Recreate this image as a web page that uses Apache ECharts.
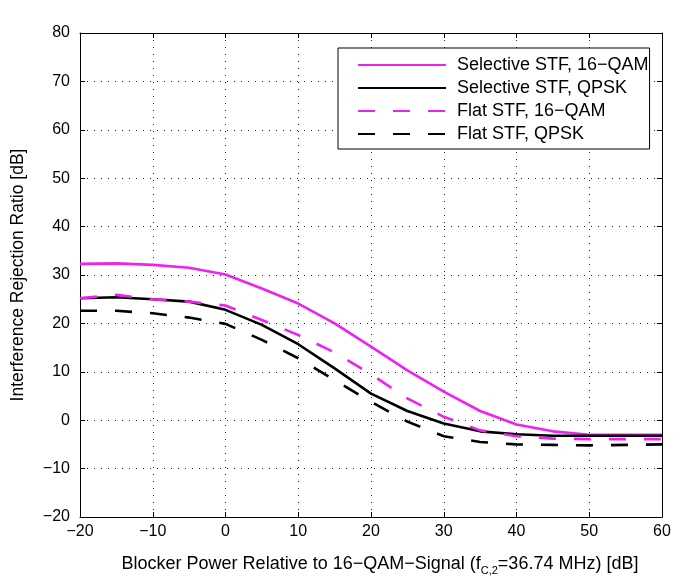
<!DOCTYPE html>
<html>
<head>
<meta charset="utf-8">
<script src="https://cdn.jsdelivr.net/npm/echarts@6/dist/echarts.min.js"></script>
<style>html,body{margin:0;padding:0;background:#fff;}#c{width:685px;height:587px;}</style>
</head>
<body>
<div id="c"></div>
<script>
const blockerPower = [-20,-15,-10,-5,0,5,10,15,20,25,30,35,40,45,50,55,60];
const selective16QAM = [32.3,32.4,32.1,31.5,30.1,27.2,24.1,20.0,15.2,10.3,5.9,1.9,-0.9,-2.3,-3.0,-3.0,-3.0];
const selectiveQPSK = [25.2,25.4,25.0,24.5,22.8,19.7,15.7,10.7,5.5,1.9,-0.7,-2.3,-2.9,-3.2,-3.2,-3.2,-3.2];
const flat16QAM = [25.2,25.9,25.0,24.5,23.7,20.7,17.6,14.0,9.5,4.5,0.7,-2.1,-3.3,-3.8,-3.9,-3.9,-3.9];
const flatQPSK = [22.6,22.6,22.1,21.2,19.9,16.6,12.8,8.3,3.8,-0.3,-3.3,-4.5,-5.0,-5.1,-5.2,-5.1,-5.0];
const seriesNames = ['Selective STF, 16\u2212QAM','Selective STF, QPSK','Flat STF, 16\u2212QAM','Flat STF, QPSK'];
const xTicks = {min:-20, max:60, interval:10};
const yTicks = {min:-20, max:80, interval:10};

const FONT = 'Liberation Sans, Arial, Helvetica, sans-serif';
const MAG = '#ee22ee';
const pair = (vals) => blockerPower.map((x,i)=>[x, vals[i]]);
const minus = v => String(v).replace('-', '\u2212');

const chart = echarts.init(document.getElementById('c'), null, {renderer:'canvas'});
const gridLine = {show:true, lineStyle:{color:'#222', width:1, type:[1,6]}};
const tick = {show:true, inside:true, length:5, lineStyle:{color:'#000'}};
const axLine = {show:true, onZero:false, lineStyle:{color:'#000', width:1}};
function mkSeries(name, vals, color, dashed){
  return {name, type:'line', data:pair(vals), symbol:'none', smooth:false,
    lineStyle:{color, width:2.6, type: dashed ? [17,18] : 'solid'}, itemStyle:{color}, z: 3};
}
chart.setOption({
  animation:false,
  backgroundColor:'#fff',
  grid:{left:80, right:23, top:33, bottom:70},
  xAxis:[{type:'value', min:xTicks.min, max:xTicks.max, interval:xTicks.interval,
    axisLine:axLine, axisTick:tick, splitLine:gridLine,
    axisLabel:{color:'#000', fontFamily:FONT, fontSize:16, margin:7, formatter:minus},
    name:'Blocker Power Relative to 16\u2212QAM\u2212Signal (f{sub|C,2}=36.74 MHz) [dB]',
    nameLocation:'middle', nameGap:35,
    nameTextStyle:{color:'#000', fontFamily:FONT, fontSize:18, padding:[0,0,0,18],
      rich:{sub:{fontSize:11, fontFamily:FONT, color:'#000', padding:[13,0,0,0]}}}
  },{type:'value', position:'top', min:xTicks.min, max:xTicks.max, interval:xTicks.interval,
    axisLine:axLine, axisTick:tick, axisLabel:{show:false}, splitLine:{show:false}}],
  yAxis:[{type:'value', min:yTicks.min, max:yTicks.max, interval:yTicks.interval,
    axisLine:axLine, axisTick:tick, splitLine:gridLine,
    axisLabel:{color:'#000', fontFamily:FONT, fontSize:16, margin:10, formatter:minus},
    name:'Interference Rejection Ratio [dB]', nameLocation:'middle', nameGap:53,
    nameTextStyle:{color:'#000', fontFamily:FONT, fontSize:17.5}
  },{type:'value', position:'right', min:yTicks.min, max:yTicks.max, interval:yTicks.interval,
    axisLine:axLine, axisTick:tick, axisLabel:{show:false}, splitLine:{show:false}}],
  legend:{orient:'vertical', left:338, top:48, data:seriesNames,
    backgroundColor:'#fff', borderColor:'#000', borderWidth:1, borderRadius:0,
    padding:[8,1,6,19], itemWidth:88, itemHeight:10, itemGap:5,
    itemStyle:{opacity:0},
    textStyle:{color:'#000', fontFamily:FONT, fontSize:18, lineHeight:18, padding:[0,0,0,6]}},
  series:[
    mkSeries(seriesNames[0], selective16QAM, MAG, false),
    mkSeries(seriesNames[1], selectiveQPSK, '#000', false),
    mkSeries(seriesNames[2], flat16QAM, MAG, true),
    mkSeries(seriesNames[3], flatQPSK, '#000', true)
  ]
});
</script>
</body>
</html>
